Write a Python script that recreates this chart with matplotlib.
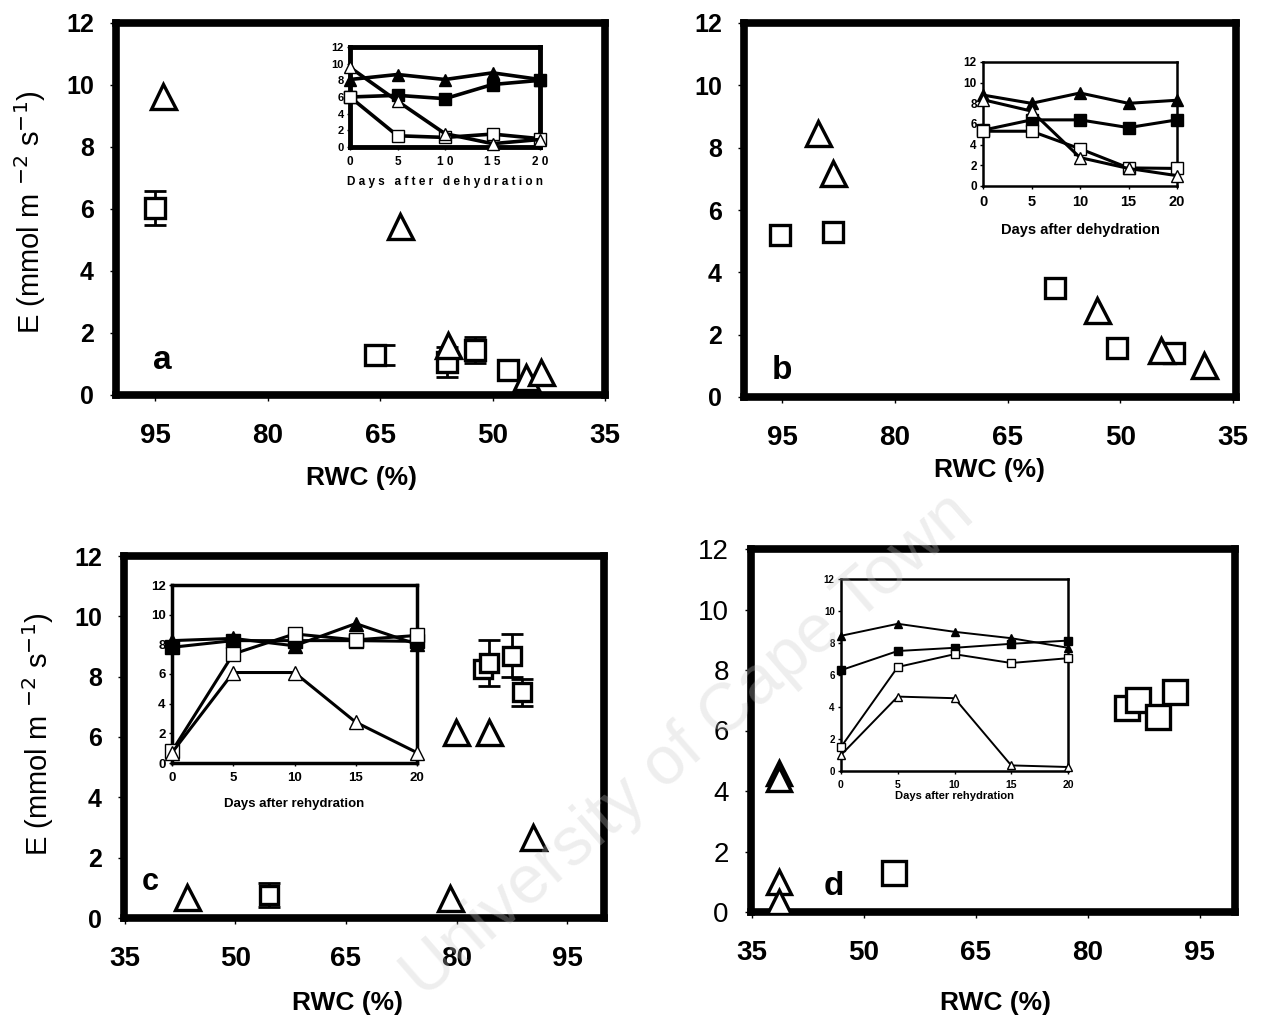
import matplotlib
matplotlib.use('Agg')
import matplotlib.pyplot as plt

W, H = 1263, 1024

# ── main panels: RWC (%) vs E ───────────────────────────────────────────────
a_tri_x = [93.9, 62.4, 55.9, 45.5, 43.5]
a_tri_y = [9.65, 5.45, 1.61, 0.58, 0.74]
a_sq_x = [95.0, 65.7, 56.1, 52.4, 48.0]
a_sq_y = [6.03, 1.29, 1.06, 1.45, 0.81]
a_err_x = [95.0, 64.4, 56.1, 52.4]
a_err_y = [6.03, 1.29, 1.06, 1.45]
a_err = [0.56, 0.32, 0.48, 0.43]

b_tri_x = [90.3, 88.2, 53.1, 44.6, 38.9]
b_tri_y = [8.46, 7.18, 2.79, 1.51, 1.03]
b_sq_x = [95.3, 88.3, 58.7, 50.5, 42.9]
b_sq_y = [5.2, 5.29, 3.49, 1.57, 1.41]

c_tri_x = [43.4, 79.1, 79.9, 84.4, 90.4]
c_tri_y = [0.7, 0.66, 6.16, 6.16, 2.68]
c_sq_x = [54.5, 83.6, 84.4, 87.5, 88.9]
c_sq_y = [0.76, 8.25, 8.45, 8.7, 7.48]
c_err_x = [54.5, 84.4, 87.5, 88.9]
c_err_y = [0.76, 8.45, 8.7, 7.48]
c_err = [0.4, 0.75, 0.7, 0.45]

d_tri_x = [38.7, 38.7, 38.7, 38.7]
d_tri_y = [4.6, 4.4, 0.99, 0.33]
d_sq_x = [54.0, 85.3, 86.7, 89.4, 91.6]
d_sq_y = [1.29, 6.74, 7.0, 6.45, 7.27]

# ── insets: E vs days ──────────────────────────────────────────────────────
days = [0, 5, 10, 15, 20]

a_in_ftri = [8.1, 8.7, 8.1, 8.9, 8.1]
a_in_fsq = [6.0, 6.2, 5.8, 7.5, 8.0]
a_in_osq = [6.0, 1.35, 1.15, 1.55, 1.0]
a_in_otri = [9.55, 5.5, 1.6, 0.4, 0.9]

b_in_ftri = [8.8, 8.0, 9.0, 8.0, 8.3]
b_in_fsq = [5.4, 6.4, 6.4, 5.65, 6.4]
b_in_osq = [5.3, 5.3, 3.6, 1.75, 1.7]
b_in_otri = [8.35, 7.25, 2.75, 1.7, 1.0]

c_in_ftri = [8.25, 8.4, 7.9, 9.4, 8.0]
c_in_fsq = [7.8, 8.25, 8.25, 8.25, 8.2]
c_in_osq = [0.8, 7.35, 8.7, 8.3, 8.6]
c_in_otri = [0.7, 6.1, 6.1, 2.75, 0.7]

d_in_ftri = [8.45, 9.2, 8.7, 8.3, 7.7]
d_in_fsq = [6.3, 7.5, 7.7, 7.95, 8.15]
d_in_osq = [1.5, 6.5, 7.3, 6.75, 7.05]
d_in_otri = [1.0, 4.65, 4.55, 0.35, 0.25]

rwc_ticks = [95, 80, 65, 50, 35]
e_ticks = [0, 2, 4, 6, 8, 10, 12]

BOLD = ['Liberation Sans', 'DejaVu Sans']
NARROW = ['Liberation Sans Narrow', 'Liberation Sans', 'DejaVu Sans']

plt.rcParams['font.family'] = BOLD


def rect(l, t, r, b):
    return [l / W, 1 - b / H, (r - l) / W, (b - t) / H]


def main_axes(fig, box, xlim, xfont, yfont_w='bold', yfs=18, xfs=20):
    ax = fig.add_axes(rect(*box))
    ax.set_xlim(*xlim)
    ax.set_ylim(0, 12)
    ax.set_xticks(rwc_ticks)
    ax.set_yticks(e_ticks)
    for s in ax.spines.values():
        s.set_linewidth(5.5)
    ax.tick_params(direction='out', length=4, width=1, pad=12)
    ax.tick_params(axis='x', pad=16)
    for lab in ax.get_xticklabels():
        lab.set_fontfamily(xfont)
        lab.set_fontweight('bold')
        lab.set_fontsize(xfs)
    for lab in ax.get_yticklabels():
        lab.set_fontweight(yfont_w)
        lab.set_fontsize(yfs)
    return ax


def scatter_main(ax, tx, ty, sx, sy, tri_ms=18, sq_ms=15, mew=2.4):
    ax.plot(sx, sy, ls='none', marker='s', ms=sq_ms, mfc='white',
            mec='black', mew=mew, zorder=3)
    ax.plot(tx, ty, ls='none', marker='^', ms=tri_ms, mfc='white',
            mec='black', mew=mew, zorder=4)


def inset(fig, box, ftri, fsq, osq, otri, lw, ms, frame_lw, tick_fs,
          xtick_fs, xlabel, label_fs, font, xlabels=None, label_pad=4):
    ax = fig.add_axes(rect(*box))
    ax.set_facecolor('white')
    ax.set_xlim(0, 20)
    ax.set_ylim(0, 12)
    ax.set_xticks(days)
    ax.set_yticks(e_ticks)
    if xlabels is not None:
        ax.set_xticklabels(xlabels)
    for s in ax.spines.values():
        s.set_linewidth(frame_lw)
    ax.tick_params(direction='out', length=2.5, width=1, pad=2)
    ax.tick_params(axis='x', pad=4)
    for lab in ax.get_yticklabels():
        lab.set_fontfamily(font)
        lab.set_fontweight('bold')
        lab.set_fontsize(tick_fs)
    for lab in ax.get_xticklabels():
        lab.set_fontfamily(font)
        lab.set_fontweight('bold')
        lab.set_fontsize(xtick_fs)
    kw = dict(color='black', lw=lw, ms=ms, mec='black', clip_on=False)
    ax.plot(days, ftri, marker='^', mfc='black', zorder=3, **kw)
    ax.plot(days, fsq, marker='s', mfc='black', zorder=3, **kw)
    ax.plot(days, osq, marker='s', mfc='white', zorder=4, **kw)
    ax.plot(days, otri, marker='^', mfc='white', zorder=5, **kw)
    ax.set_xlabel(xlabel, fontsize=label_fs, fontweight='bold',
                  fontfamily=font, labelpad=label_pad)
    return ax


fig = plt.figure(figsize=(W / 100, H / 100), dpi=100)

# ── panel a ─────────────────────────────────────────────────────────────────
ax = main_axes(fig, (116, 23, 605, 395), (100.2, 35), BOLD)
ax.errorbar(a_err_x, a_err_y, yerr=a_err, fmt='none', ecolor='black',
            elinewidth=2, capsize=8, capthick=2, zorder=2)
scatter_main(ax, a_tri_x, a_tri_y, a_sq_x, a_sq_y)
ax.text(94.0, 1.1, 'a', fontsize=24, fontweight='bold', ha='center',
        va='center')
inset(fig, (350, 47, 540, 147), a_in_ftri, a_in_fsq, a_in_osq, a_in_otri,
      lw=2.6, ms=8, frame_lw=3.5, tick_fs=8, xtick_fs=8.5,
      xlabel='D a y s   a f t e r   d e h y d r a t i o n', label_fs=8.5,
      font=BOLD, xlabels=['0', '5', '1 0', '1 5', '2 0'], label_pad=6)

# ── panel b ─────────────────────────────────────────────────────────────────
ax = main_axes(fig, (744, 23, 1236, 397), (100.1, 34.6), BOLD)
scatter_main(ax, b_tri_x, b_tri_y, b_sq_x, b_sq_y)
ax.text(95.0, 0.85, 'b', fontsize=24, fontweight='bold', ha='center',
        va='center')
inset(fig, (983, 62, 1177, 186), b_in_ftri, b_in_fsq, b_in_osq, b_in_otri,
      lw=2.2, ms=9, frame_lw=1.8, tick_fs=8.5, xtick_fs=10.5,
      xlabel='Days after dehydration', label_fs=10.5, font=NARROW,
      label_pad=10)

# ── panel c ─────────────────────────────────────────────────────────────────
ax = main_axes(fig, (124, 556, 604, 918), (34.9, 100), NARROW)
ax.errorbar(c_err_x, c_err_y, yerr=c_err, fmt='none', ecolor='black',
            elinewidth=2, capsize=8, capthick=2, zorder=2)
scatter_main(ax, c_tri_x, c_tri_y, c_sq_x, c_sq_y, sq_ms=13)
ax.text(38.5, 1.2, 'c', fontsize=22, fontweight='bold', ha='center',
        va='center')
inset(fig, (172, 585, 417, 763), c_in_ftri, c_in_fsq, c_in_osq, c_in_otri,
      lw=2.2, ms=10, frame_lw=2.5, tick_fs=9.5, xtick_fs=9.5,
      xlabel='Days after rehydration', label_fs=9.5, font=NARROW,
      label_pad=10)

# ── panel d ─────────────────────────────────────────────────────────────────
ax = main_axes(fig, (751, 549, 1235, 912), (34.9, 99.7), NARROW,
               yfont_w='normal', yfs=20)
scatter_main(ax, d_tri_x, d_tri_y, d_sq_x, d_sq_y, tri_ms=17, sq_ms=17)
ax.text(46.0, 0.85, 'd', fontsize=24, fontweight='bold', ha='center',
        va='center')
inset(fig, (841, 579, 1068, 771), d_in_ftri, d_in_fsq, d_in_osq, d_in_otri,
      lw=1.4, ms=6, frame_lw=1.8, tick_fs=7, xtick_fs=7.5,
      xlabel='Days after rehydration', label_fs=8, font=NARROW, label_pad=1)

# ── shared axis titles ──────────────────────────────────────────────────────
ylab = r'E (mmol m $^{-2}$ s$^{-1}$)'
fig.text(30 / W, 1 - 212 / H, ylab, rotation=90, fontsize=21,
         ha='center', va='center')
fig.text(38 / W, 1 - 734 / H, ylab, rotation=90, fontsize=21,
         ha='center', va='center')
for (x, y) in [(362, 478), (990, 470), (348, 1003), (995, 1003)]:
    fig.text(x / W, 1 - y / H, 'RWC (%)', fontsize=19, fontweight='bold',
             ha='center', va='center')

# faint diagonal watermark
fig.text(965 / W, 1 - 505 / H, 'University of Cape Town', rotation=41,
         rotation_mode='anchor', ha='right', va='center', fontsize=49,
         color='#c8c8c8', alpha=0.3, zorder=10)

fig.savefig('out.png', dpi=100)
